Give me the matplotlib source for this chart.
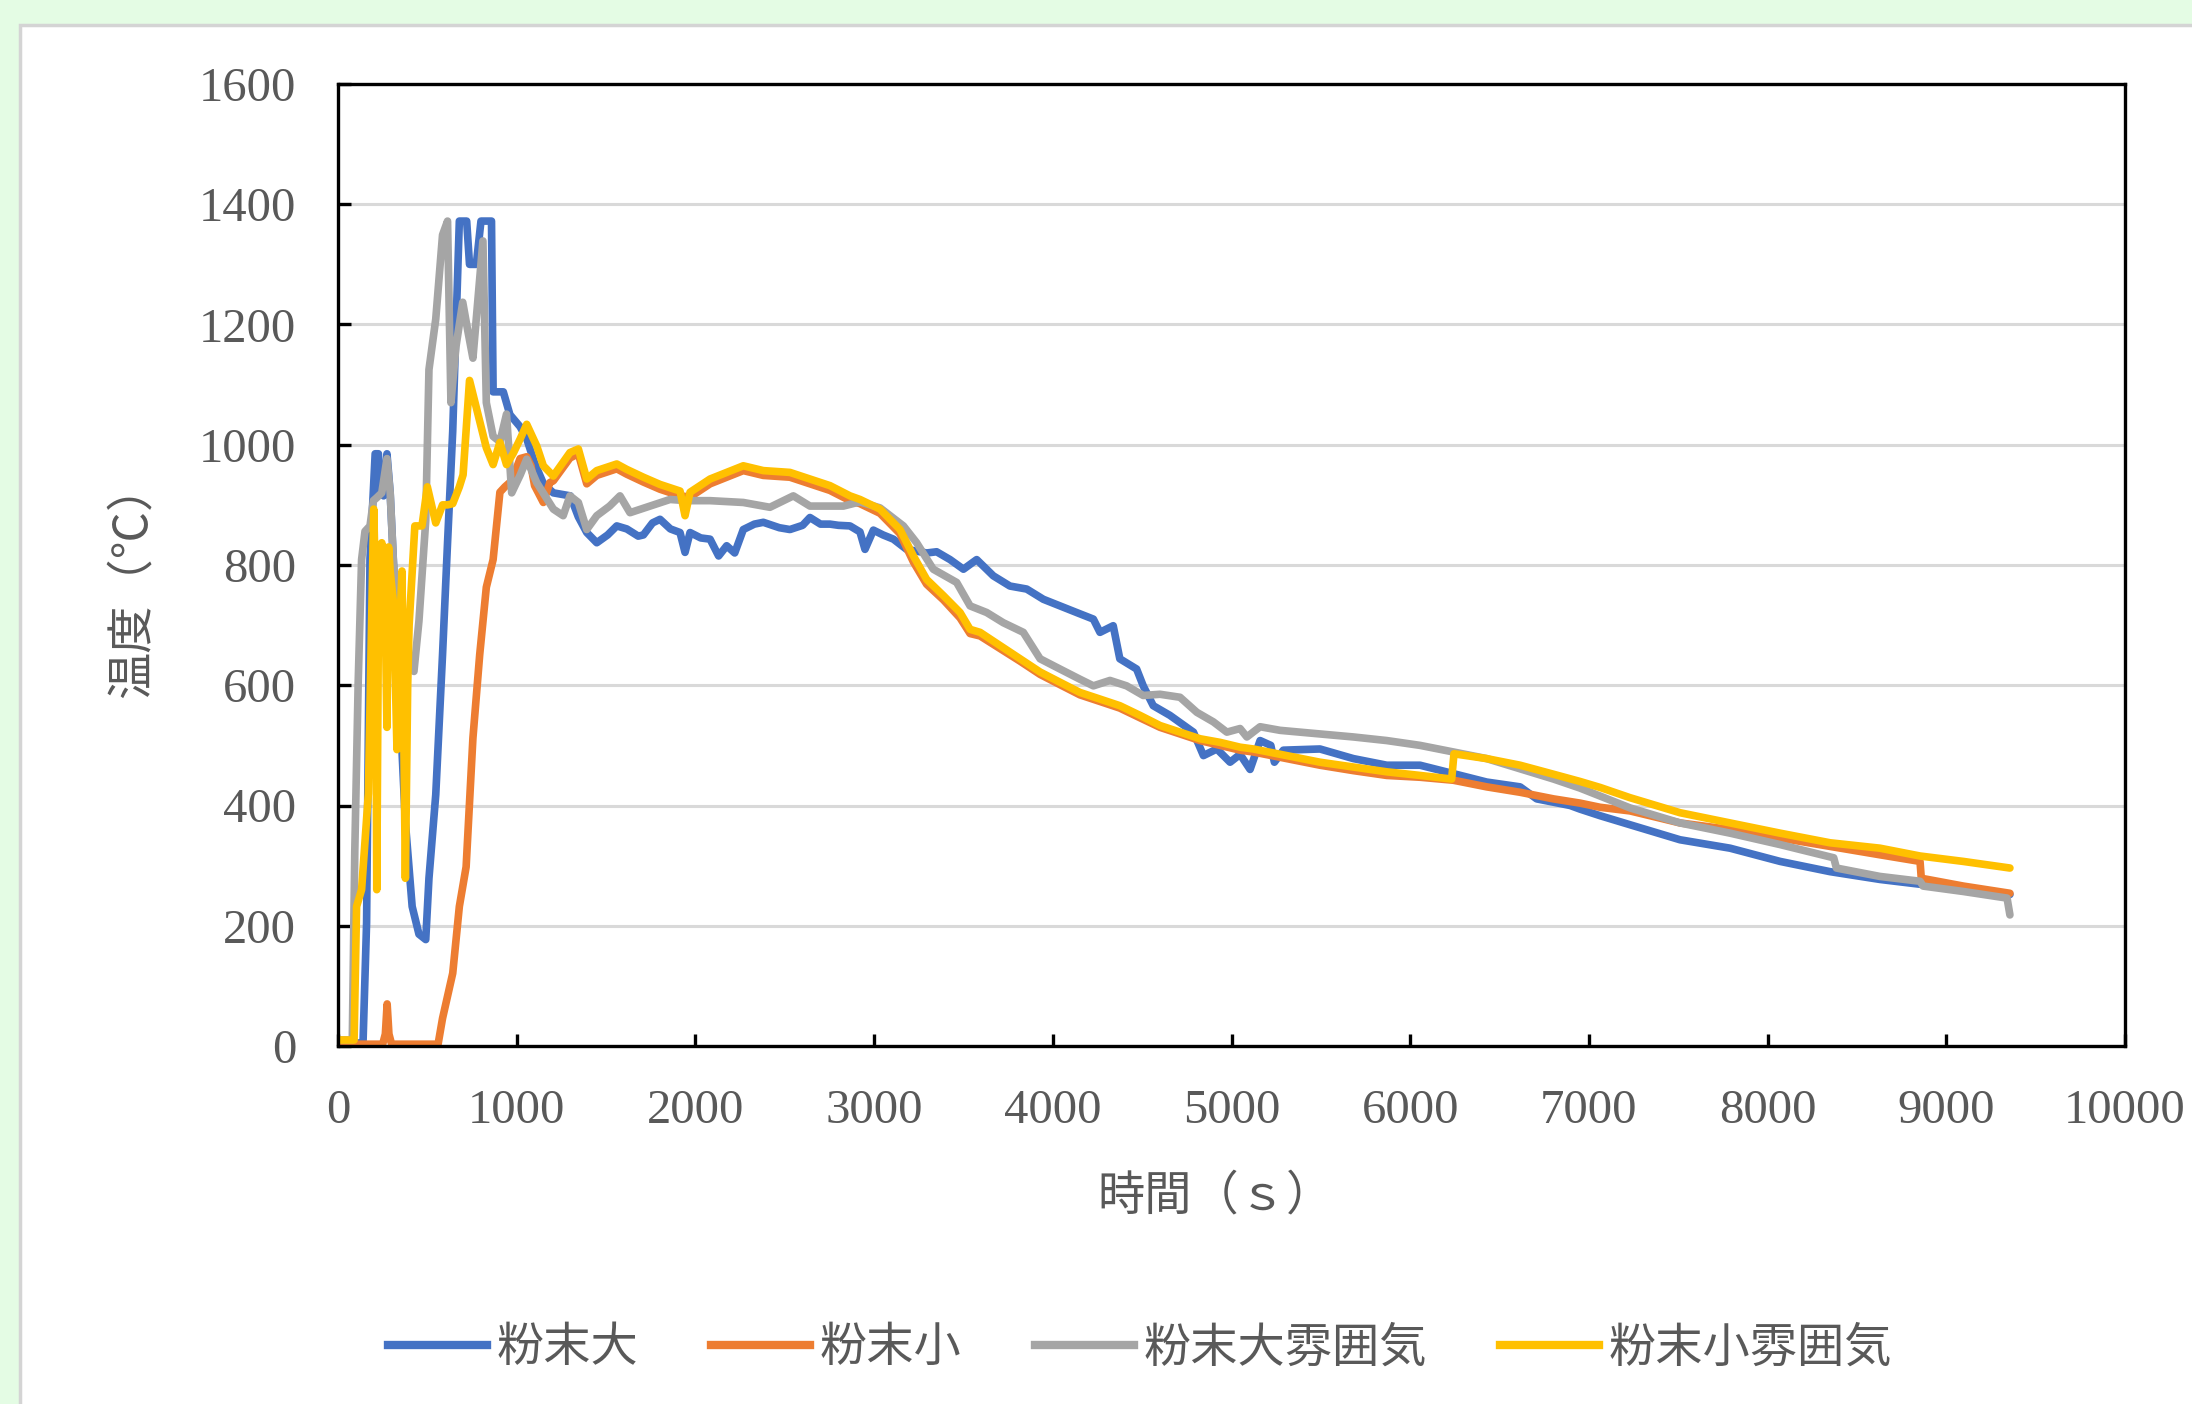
import matplotlib
matplotlib.use("Agg")
import matplotlib.pyplot as plt
from matplotlib.lines import Line2D
from matplotlib.patches import Rectangle

plt.rcParams['font.family'] = ['Liberation Serif', 'Noto Sans CJK JP']

series_names = ['粉末大', '粉末小', '粉末大雰囲気', '粉末小雰囲気']
series_colors = ['#4472C4', '#ED7D31', '#A5A5A5', '#FFC000']

# 粉末大
t_large = [0, 140, 160, 179, 208, 226, 236, 255, 274, 292, 311, 340, 377, 415, 453, 491,
           509, 547, 585, 613, 642, 679, 720, 736, 774, 800, 859, 868, 925, 962, 1019,
           1056, 1100, 1150, 1205, 1300, 1345, 1392, 1448, 1509, 1560, 1616, 1680, 1709,
           1760, 1802, 1860, 1914, 1942, 1970, 2030, 2082, 2130, 2175, 2220, 2268, 2330,
           2380, 2470, 2529, 2600, 2641, 2700, 2753, 2800, 2865, 2921, 2949, 2996, 3050,
           3108, 3182, 3294, 3350, 3425, 3500, 3574, 3667, 3760, 3854, 3947, 4040, 4133,
           4227, 4264, 4338, 4375, 4469, 4506, 4562, 4655, 4787, 4843, 4918, 4992, 5048,
           5104, 5160, 5220, 5240, 5290, 5495, 5682, 5869, 6055, 6242, 6428, 6615, 6708,
           6895, 6950, 7063, 7230, 7510, 7790, 8070, 8349, 8629, 8853, 9356]
temp_large = [5, 5, 205, 810, 985, 985, 920, 915, 985, 920, 800, 605, 372, 232, 186, 177,
              279, 418, 651, 837, 1023, 1372, 1372, 1300, 1300, 1372, 1372, 1088, 1088, 1050, 1030,
              1010, 970, 935, 920, 915, 880, 854, 837, 850, 865, 860, 848, 850,
              870, 876, 860, 854, 821, 854, 845, 843, 815, 832, 820, 859, 868,
              871, 862, 859, 866, 879, 868, 868, 866, 865, 855, 826, 858, 850,
              843, 826, 820, 822, 809, 793, 809, 782, 765, 760, 743, 732, 721,
              710, 688, 699, 644, 627, 599, 566, 550, 522, 483, 494, 472, 485,
              460, 508, 500, 472, 492, 494, 478, 467, 467, 453, 439, 431, 411,
              400, 394, 383, 368, 343, 329, 307, 290, 277, 269, 252]

# 粉末小
t_small = [0, 250, 265, 275, 285, 300, 560, 585, 642, 679, 717, 755, 793, 830, 868, 906,
           934, 972, 1019, 1056, 1080, 1100, 1149, 1185, 1205, 1298, 1345, 1392, 1448, 1560,
           1616, 1709, 1802, 1914, 1970, 2082, 2175, 2268, 2380, 2529, 2641, 2753, 2865,
           2921, 3033, 3145, 3220, 3294, 3388, 3481, 3537, 3593, 3705, 3817, 3929, 4040,
           4152, 4264, 4375, 4487, 4600, 4712, 4824, 4936, 5048, 5122, 5309, 5495, 5682,
           5869, 6055, 6242, 6428, 6615, 6802, 6950, 7063, 7230, 7510, 7790, 8070, 8349,
           8629, 8853, 8860, 9095, 9356]
temp_small = [3, 3, 20, 70, 20, 3, 3, 46, 121, 232, 298, 512, 651, 763, 809, 921,
              930, 940, 977, 980, 965, 932, 904, 937, 940, 978, 985, 935, 949, 960,
              951, 938, 926, 915, 913, 935, 946, 957, 949, 946, 935, 924, 907,
              902, 886, 852, 805, 768, 742, 712, 686, 682, 661, 640, 618, 601,
              584, 573, 562, 546, 530, 519, 508, 500, 492, 489, 478, 467, 458,
              450, 447, 442, 431, 422, 411, 404, 397, 391, 371, 360, 346, 332,
              318, 307, 279, 266, 254]

# 粉末大雰囲気
t_large_atm = [0, 80, 94, 113, 132, 151, 179, 198, 217, 245, 274, 292, 311, 340, 425, 453,
               491, 509, 547, 585, 613, 632, 660, 698, 726, 755, 811, 830, 868, 906, 943,
               972, 1020, 1056, 1112, 1205, 1260, 1298, 1345, 1392, 1448, 1520, 1578, 1634,
               1746, 1858, 1952, 2082, 2268, 2417, 2548, 2641, 2828, 2921, 3033, 3164, 3238,
               3331, 3462, 3537, 3630, 3723, 3835, 3929, 4040, 4152, 4227, 4320, 4413, 4506,
               4600, 4712, 4806, 4899, 4974, 5048, 5086, 5160, 5272, 5495, 5682, 5869, 6055,
               6242, 6428, 6615, 6802, 6950, 7230, 7510, 7790, 8070, 8370, 8385, 8629, 8853,
               8870, 9095, 9340, 9356]
temp_large_atm = [10, 10, 325, 605, 809, 856, 865, 907, 912, 920, 977, 920, 800, 700, 623, 707,
                  874, 1125, 1209, 1349, 1372, 1070, 1163, 1237, 1190, 1144, 1339, 1070, 1014, 1005, 1051,
                  920, 950, 976, 937, 893, 882, 915, 904, 859, 882, 898, 915, 887,
                  898, 909, 907, 907, 904, 896, 915, 898, 898, 905, 895, 865, 837,
                  793, 771, 732, 721, 704, 688, 644, 627, 610, 599, 608, 599, 583,
                  585, 580, 555, 539, 522, 528, 514, 531, 525, 519, 514, 508, 500,
                  489, 478, 461, 444, 429, 396, 371, 354, 335, 313, 296, 282, 274,
                  266, 257, 246, 218]

# 粉末小雰囲気
t_small_atm = [0, 90, 104, 132, 170, 200, 210, 217, 226, 245, 262, 274, 283, 292, 311, 330,
               340, 358, 377, 390, 398, 430, 470, 500, 547, 585, 613, 642, 679, 700, 736,
               783, 830, 868, 906, 943, 981, 1020, 1056, 1112, 1149, 1205, 1298, 1345, 1392,
               1448, 1560, 1616, 1709, 1802, 1914, 1942, 1970, 2082, 2175, 2268, 2380, 2529,
               2641, 2753, 2865, 2921, 3033, 3145, 3220, 3294, 3388, 3481, 3537, 3593, 3705,
               3817, 3929, 4040, 4152, 4264, 4375, 4487, 4600, 4712, 4824, 4936, 5048, 5122,
               5309, 5495, 5682, 5869, 6055, 6232, 6245, 6428, 6615, 6802, 6950, 7063, 7230,
               7510, 7790, 8070, 8349, 8629, 8853, 9095, 9356]
temp_small_atm = [10, 10, 232, 260, 420, 893, 760, 260, 700, 837, 760, 530, 830, 790, 735, 493,
                  650, 790, 279, 600, 700, 865, 865, 930, 870, 900, 900, 902, 930, 950, 1107,
                  1051, 995, 967, 1004, 967, 986, 1010, 1034, 998, 965, 948, 987, 993, 943,
                  957, 968, 959, 946, 934, 923, 882, 921, 943, 954, 965, 957, 954,
                  943, 932, 915, 909, 893, 859, 815, 776, 749, 721, 693, 688, 666,
                  644, 622, 605, 588, 577, 566, 550, 533, 522, 511, 505, 497, 494,
                  483, 472, 464, 456, 450, 444, 486, 478, 467, 452, 440, 430, 413,
                  388, 371, 354, 338, 329, 316, 307, 296]

x_ticks = [0, 1000, 2000, 3000, 4000, 5000, 6000, 7000, 8000, 9000, 10000]
y_ticks = [0, 200, 400, 600, 800, 1000, 1200, 1400, 1600]

all_t = [t_large, t_small, t_large_atm, t_small_atm]
all_temp = [temp_large, temp_small, temp_large_atm, temp_small_atm]

W, H = 2192, 1404
fig = plt.figure(figsize=(W / 100, H / 100), dpi=100)
fig.patch.set_facecolor('#E4FCE4')

# white chart area with gray border
fig.patches.append(Rectangle((20 / W, -0.05), 1.1, 1 - 25 / H + 0.05, transform=fig.transFigure,
                             facecolor='white', edgecolor='#D4D4D4', linewidth=2.5, zorder=-10))

ax = fig.add_axes([338 / W, 1 - 1046 / H, 1787 / W, 962 / H])
ax.set_facecolor('white')

for t, temp, c in zip(all_t, all_temp, series_colors):
    ax.plot(t, temp, color=c, linewidth=5.5, solid_joinstyle='round', solid_capstyle='round')

ax.set_xlim(0, 10000)
ax.set_ylim(0, 1600)
ax.set_xticks(x_ticks)
ax.set_yticks(y_ticks)
ax.yaxis.grid(True, color='#D9D9D9', linewidth=2.2)
ax.set_axisbelow(True)
for s in ax.spines.values():
    s.set_color('black')
    s.set_linewidth(2.4)
ax.tick_params(direction='in', length=9, width=2.4, color='black',
               labelsize=35, labelcolor='#595959')
ax.tick_params(axis='x', pad=31)
ax.tick_params(axis='y', pad=30)

fig.text(1216 / W, 1 - 1197 / H, '時間（ｓ）', fontsize=34, color='#595959',
         ha='center', va='center')
fig.text(133 / W, 1 - 580 / H, '温度（℃）', fontsize=34, color='#595959',
         ha='center', va='center', rotation=90)

handles = [Line2D([], [], color=c, linewidth=6) for c in series_colors]
fig.legend(handles, series_names, loc='center', bbox_to_anchor=(1140 / W, 1 - 1349 / H),
           ncol=4, frameon=False, fontsize=34, labelcolor='#595959',
           handlelength=2.1, handletextpad=0.2, columnspacing=1.55)

fig.savefig('out.png', dpi=100, facecolor=fig.get_facecolor())
